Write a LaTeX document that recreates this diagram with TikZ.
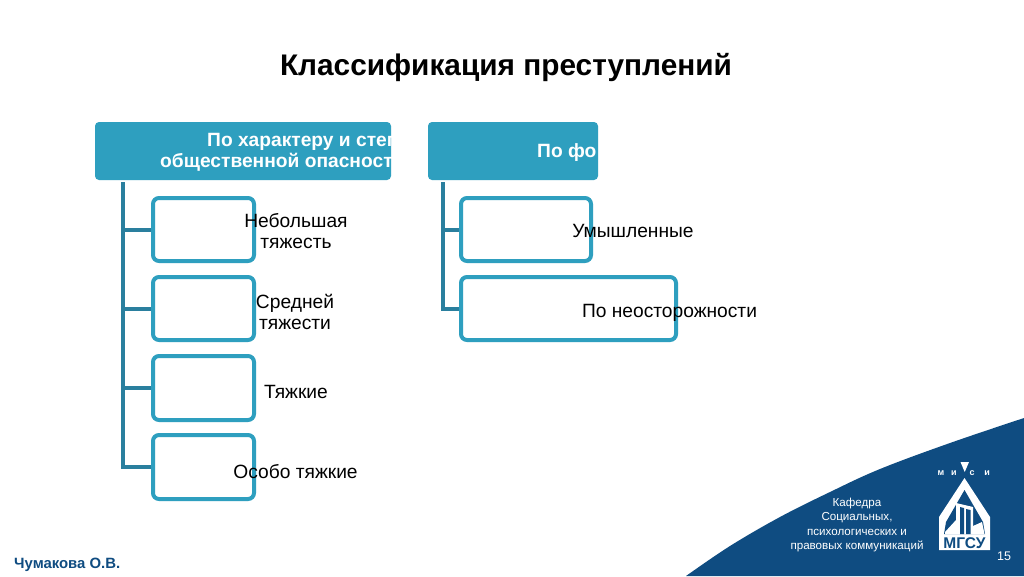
\documentclass[tikz,border=0pt]{standalone}
\usepackage{fontspec}
\setmainfont{Liberation Sans}
\definecolor{boxblue}{HTML}{2E9FBF}
\definecolor{trunkblue}{HTML}{2A7F9E}
\definecolor{navy}{HTML}{0F4C81}
\tikzset{
  px/.style={x=1pt,y=-1pt},
  headbox/.style={fill=boxblue,rounded corners=4pt,inner sep=0pt},
  childbox/.style={draw=boxblue,line width=4pt,fill=white,rounded corners=6pt,inner sep=0pt},
  conn/.style={draw=trunkblue,line width=4pt},
  lbl/.style={font=\fontsize{19.2}{21}\selectfont,align=center,text=black,inner sep=0pt},
  headtxt/.style={font=\bfseries\fontsize{19.2}{21}\selectfont,align=center,text=white,inner sep=0pt},
  foot/.style={font=\fontsize{11.6}{14.6}\selectfont,align=center,text=white,inner sep=0pt},
}
\begin{document}
\begin{tikzpicture}[px]
\useasboundingbox (0,0) rectangle (1024,576);
\fill[white] (0,0) rectangle (1024,576);
% wave
\fill[navy] plot[smooth,tension=0.6] coordinates {(686,576) (730,546) (780,517) (830,492) (880,469) (950,443) (1024,418)} -- (1024,576) -- cycle;
% title
\node[font=\bfseries\fontsize{29.8}{34}\selectfont,inner sep=0pt] (title) at (506,68) {Классификация преступлений};
% headers
\node[headbox,minimum width=296pt,minimum height=58pt] (h1) at (243,151) {};
\node[headbox,minimum width=170pt,minimum height=58pt] (h2) at (513,151) {};
\begin{scope}
\clip (95,122) rectangle (391,180);
\node[headtxt,anchor=west] (h1a) at (207,142) {По характеру и степени};
\node[headtxt,anchor=west] (h1b) at (160,162) {общественной опасности};
\end{scope}
\begin{scope}
\clip (428,122) rectangle (596,180);
\node[headtxt,anchor=west] (h2a) at (537,152.5) {По форме};
\end{scope}
% child boxes
\node[childbox,minimum width=101pt,minimum height=63pt] (a1) at (203.5,229.5) {};
\node[childbox,minimum width=101pt,minimum height=63pt] (a2) at (203.5,308.5) {};
\node[childbox,minimum width=101pt,minimum height=64pt] (a3) at (203.5,388) {};
\node[childbox,minimum width=101pt,minimum height=64pt] (a4) at (203.5,467) {};
\node[childbox,minimum width=130pt,minimum height=63pt] (b1) at (526,229.5) {};
\node[childbox,minimum width=215pt,minimum height=63pt] (b2) at (568.5,308.5) {};
% connectors
\coordinate (t1) at (123,182);
\coordinate (t2) at (443,182);
\draw[conn,line join=miter] (t1) -- (t1 |- a4.west) -- (a4.west);
\draw[conn] (t1 |- a1.west) -- (a1.west);
\draw[conn] (t1 |- a2.west) -- (a2.west);
\draw[conn] (t1 |- a3.west) -- (a3.west);
\draw[conn,line join=miter] (t2) -- (t2 |- b2.west) -- (b2.west);
\draw[conn] (t2 |- b1.west) -- (b1.west);
% labels
\node[lbl] (la1) at (296,231.5) {Небольшая\\тяжесть};
\node[lbl] (la2) at (295,311.5) {Средней\\тяжести};
\node[lbl] (la3) at (296,392) {Тяжкие};
\node[lbl] (la4) at (295.5,472) {Особо тяжкие};
\node[lbl] (lb1) at (633,231) {Умышленные};
\node[lbl] (lb2) at (669.5,313) {По неосторожности};
% footer
\node[foot] (dept) at (857,525) {Кафедра\\Социальных,\\психологических и\\правовых коммуникаций};
\node[font=\bfseries\fontsize{14.9}{16}\selectfont,text=navy,inner sep=0pt,anchor=west] (author) at (14,565) {Чумакова О.В.};
\node[font=\fontsize{12.5}{13}\selectfont,text=white,inner sep=0pt] (page) at (1004,556) {15};
% logo
\fill[white] (960.5,462) -- (969,462) -- (964.7,472) -- cycle;
\fill[white] (964.5,478) -- (990,517) -- (990,550) -- (939,550) -- (939,517) -- cycle;
\fill[navy] (964.5,490) -- (983,522) -- (985,534) -- (944,534) -- (946,522) -- cycle;
\fill[white] (956,503) -- (973,507) -- (973,534) -- (956,534) -- cycle;
\fill[navy] (960,507) -- (964,508) -- (964,534) -- (960,534) -- cycle;
\fill[navy] (966,509) -- (970.5,510) -- (970.5,534) -- (966,534) -- cycle;
\fill[white] (945,532) -- (956,520) -- (956,534) -- (945,534) -- cycle;
\fill[white] (973,526) -- (982,522) -- (984.5,534) -- (973,534) -- cycle;
\foreach \px/\ltr in {941/м,954/и,972/с,987/и}
  \node[font=\bfseries\fontsize{9}{10}\selectfont,text=white,inner sep=0pt] at (\px,473) {\ltr};
\node[font=\bfseries\fontsize{15.5}{16}\selectfont,text=navy,inner sep=0pt] (mgsu) at (964.5,543) {МГСУ};
\end{tikzpicture}
\end{document}
